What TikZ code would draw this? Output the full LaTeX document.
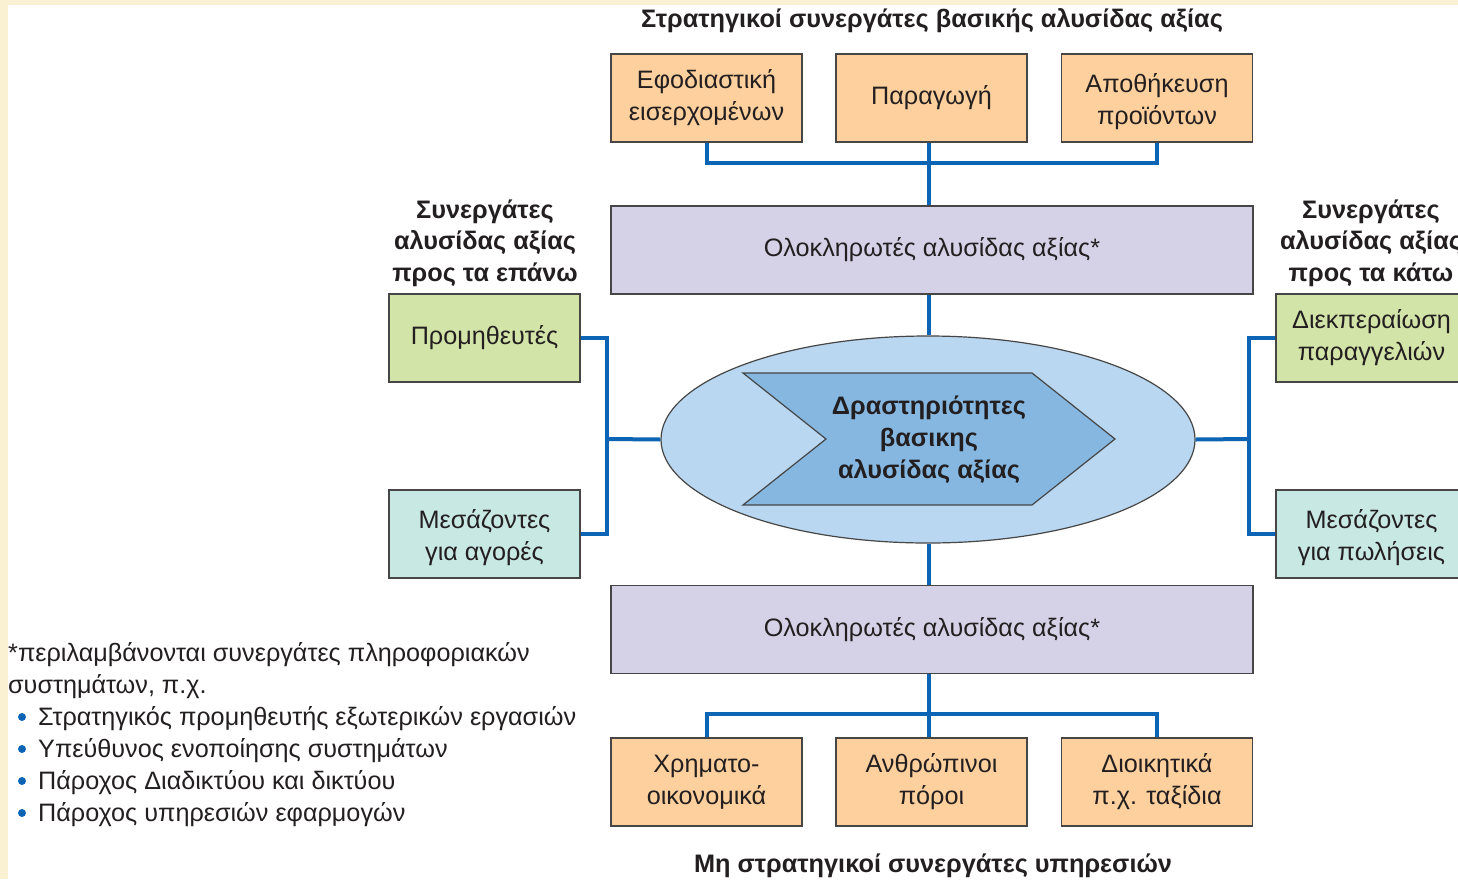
\documentclass[tikz,border=0pt]{standalone}
\usepackage{fontspec}
\setmainfont{Liberation Sans}
\usetikzlibrary{shapes.geometric}

\definecolor{ink}{RGB}{35,31,32}
\definecolor{edge}{RGB}{70,70,70}
\definecolor{wire}{RGB}{12,100,180}
\definecolor{peach}{RGB}{253,208,157}
\definecolor{lavender}{RGB}{213,210,232}
\definecolor{leaf}{RGB}{210,228,168}
\definecolor{mint}{RGB}{200,232,228}
\definecolor{sky}{RGB}{185,215,240}
\definecolor{chev}{RGB}{133,183,225}
\definecolor{frame}{RGB}{250,240,210}

\newcommand\bodyfont{\fontsize{25.2}{32}\selectfont}
\newcommand\headfont{\bfseries\fontsize{25.3}{31.5}\selectfont}
% two-line label set a little lower in its box
\newcommand\lowlabel[1]{\parbox{185pt}{\centering\vspace*{8pt}#1}}

\begin{document}
\begin{tikzpicture}[x=1pt,y=-1pt,
  box/.style={draw=edge, line width=1.3pt, minimum width=191pt, minimum height=88pt,
    inner sep=0pt, align=center, font=\bodyfont, text=ink},
  wide/.style={box, fill=lavender, minimum width=642pt},
  conn/.style={draw=wire, line width=4pt, line join=miter},
  head/.style={font=\headfont, text=ink, align=center, inner sep=0pt},
  note/.style={font=\bodyfont, text=ink, inner sep=0pt, anchor=base west},
  dot/.style={circle, fill=wire, inner sep=0pt, minimum size=8pt}]

\clip (0,0) rectangle (1458,879);
\fill[white] (0,0) rectangle (1458,879);
% cream frame along the top and left edges
\fill[frame] (0,0) rectangle (1458,5);
\fill[frame] (0,0) rectangle (8,879);

% headings
\node[head, anchor=base] (htop) at (932,27) {Στρατηγικοί συνεργάτες βασικής αλυσίδας αξίας};
\node[head, anchor=base] (hbot) at (933,872) {Μη στρατηγικοί συνεργάτες υπηρεσιών};
\node[head] (hup) at (485,243) {Συνεργάτες\\αλυσίδας αξίας\\προς τα επάνω};
\node[head] (hdown) at (1371,243) {Συνεργάτες\\αλυσίδας αξίας\\προς τα κάτω};

% primary value-chain partners
\node[box, fill=peach] (t1) at (706.5,98) {Εφοδιαστική\\εισερχομένων};
\node[box, fill=peach] (t2) at (931.5,98) {Παραγωγή};
\node[box, fill=peach] (t3) at (1157,98) {\lowlabel{Αποθήκευση\\προϊόντων}};

% integrators
\node[wide] (int1) at (932,250) {Ολοκληρωτές αλυσίδας αξίας*};
\node[wide] (int2) at (932,629.5) {Ολοκληρωτές αλυσίδας αξίας*};

% service partners
\node[box, fill=peach] (b1) at (706.5,782) {Χρηματο-\\οικονομικά};
\node[box, fill=peach] (b2) at (931.5,782) {Ανθρώπινοι\\πόροι};
\node[box, fill=peach] (b3) at (1157,782) {Διοικητικά\\π.χ. ταξίδια};

% upstream and downstream partners
\node[box, fill=leaf] (sup) at (484.5,338) {Προμηθευτές};
\node[box, fill=mint] (mkt) at (484.5,534) {\lowlabel{Μεσάζοντες\\για αγορές}};
\node[box, fill=leaf] (ord) at (1371.5,338) {Διεκπεραίωση\\παραγγελιών};
\node[box, fill=mint] (sal) at (1371.5,534) {\lowlabel{Μεσάζοντες\\για πωλήσεις}};

% core activities
\node[ellipse, draw=edge, line width=1.2pt, fill=sky, minimum width=534pt,
      minimum height=207pt, inner sep=0pt] (ell) at (928,439.5) {};
\coordinate (c1) at (743,373);
\coordinate (c2) at (1032,373);
\coordinate (c3) at (1115,439);
\coordinate (c4) at (1032,505);
\coordinate (c5) at (743,505);
\coordinate (c6) at (826,439);
\draw[edge, line width=1.2pt, fill=chev, line join=miter] (c1) -- (c2) -- (c3) -- (c4) -- (c5) -- (c6) -- cycle;
\node[head, font=\bfseries\fontsize{25.3}{32}\selectfont] (core) at (929,440) {Δραστηριότητες\\βασικης\\αλυσίδας αξίας};

% connectors
\coordinate (topbus) at (929,163);
\coordinate (botbus) at (929,714);
\coordinate (lbus) at (607,439);
\coordinate (rbus) at (1249,439);
\draw[conn] (t1.south) |- (topbus) -| (t3.south);
\draw[conn] (t2.south -| topbus) -- (topbus |- int1.north);
\draw[conn] (int1.south -| topbus) -- (topbus |- ell.north);
\draw[conn] (botbus |- ell.south) -- (botbus |- int2.north);
\draw[conn] (b1.north) |- (botbus) -| (b3.north);
\draw[conn] (b2.north -| botbus) -- (botbus |- int2.south);
\draw[conn] (sup.east) -| (lbus) |- (mkt.east);
\draw[conn] (lbus) -- (ell.west);
\draw[conn] (ord.west) -| (rbus) |- (sal.west);
\draw[conn] (rbus) -- (ell.east);

% footnote
\node[note] (n1) at (8,661) {*περιλαμβάνονται συνεργάτες πληροφοριακών};
\node[note] (n2) at (8,693) {συστημάτων, π.χ.};
\node[note] (n3) at (38,725) {Στρατηγικός προμηθευτής εξωτερικών εργασιών};
\node[note] (n4) at (38,757) {Υπεύθυνος ενοποίησης συστημάτων};
\node[note] (n5) at (38,789) {Πάροχος Διαδικτύου και δικτύου};
\node[note] (n6) at (38,821) {Πάροχος υπηρεσιών εφαρμογών};
\node[dot] (d3) at (22,717) {};
\node[dot] (d4) at (22,749) {};
\node[dot] (d5) at (22,781) {};
\node[dot] (d6) at (22,813) {};
\end{tikzpicture}
\end{document}
